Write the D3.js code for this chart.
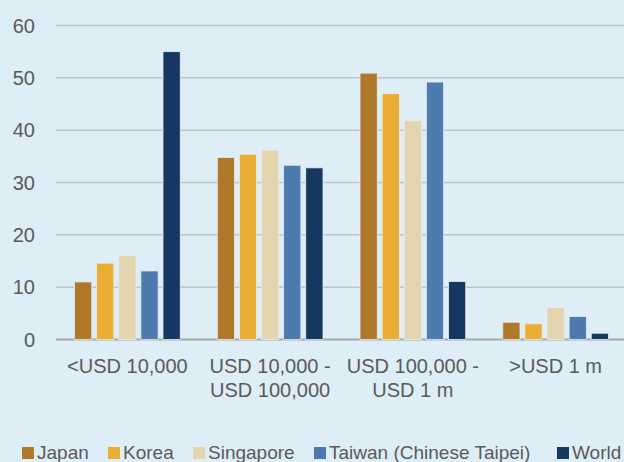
<!DOCTYPE html>
<html>
<head>
<meta charset="utf-8">
<script src="https://cdn.jsdelivr.net/npm/d3@7"></script>
<style>
  html, body { margin: 0; padding: 0; background: #deeef7; }
  svg { display: block; }
  text { font-family: "Liberation Sans", Arial, sans-serif; fill: #5a5a5a; }
</style>
</head>
<body>
<svg id="chart" width="624" height="462"></svg>
<script>
// chart data
var CATEGORIES = [["<USD 10,000"], ["USD 10,000 -", "USD 100,000"], ["USD 100,000 -", "USD 1 m"], [">USD 1 m"]];
var SERIES = ["Japan", "Korea", "Singapore", "Taiwan (Chinese Taipei)", "World"];
var JAPAN = [11.0, 34.8, 50.9, 3.3];
var KOREA = [14.6, 35.4, 47.0, 3.0];
var SINGAPORE = [16.0, 36.2, 41.8, 6.1];
var TAIWAN = [13.1, 33.3, 49.2, 4.4];
var WORLD = [55.0, 32.8, 11.1, 1.2];
var Y_TICKS = [0, 10, 20, 30, 40, 50, 60];

var COLORS = ["#b0782b", "#ebae34", "#e5d4b0", "#4e7bad", "#173763"];
var VALUES = [JAPAN, KOREA, SINGAPORE, TAIWAN, WORLD];

var MARGIN = {left: 56, top: 25.5, right: -3, bottom: 122.5};
var W = 624, H = 462;

var svg = d3.select("#chart");

var x0 = d3.scaleBand()
    .domain(d3.range(CATEGORIES.length))
    .range([MARGIN.left, W - MARGIN.right])
    .paddingInner(0)
    .paddingOuter(0);

var x1 = d3.scaleBand()
    .domain(d3.range(SERIES.length))
    .range([18.5, x0.bandwidth() - 18.5])
    .paddingInner(0.22);

var y = d3.scaleLinear()
    .domain([0, 60])
    .range([H - MARGIN.bottom, MARGIN.top]);

// gridlines
svg.append("g")
    .selectAll("line")
    .data(Y_TICKS)
    .join("line")
    .attr("x1", MARGIN.left)
    .attr("x2", W)
    .attr("y1", d => y(d))
    .attr("y2", d => y(d))
    .attr("stroke", d => d === 0 ? "#a8a8a8" : "#bfc3c6")
    .attr("stroke-width", d => d === 0 ? 2 : 1.5);

// y tick labels
svg.append("g")
    .selectAll("text")
    .data(Y_TICKS)
    .join("text")
    .attr("x", 35)
    .attr("y", d => y(d))
    .attr("dy", "0.36em")
    .attr("text-anchor", "end")
    .attr("font-size", 20)
    .text(d => d);

// bars
var groups = svg.append("g")
    .selectAll("g")
    .data(CATEGORIES)
    .join("g")
    .attr("transform", (d, i) => `translate(${x0(i)},0)`);

groups.selectAll("rect")
    .data((d, i) => VALUES.map((s, j) => ({series: j, value: s[i]})))
    .join("rect")
    .attr("x", d => x1(d.series))
    .attr("y", d => y(d.value))
    .attr("width", x1.bandwidth())
    .attr("height", d => y(0) - y(d.value))
    .attr("fill", d => COLORS[d.series])
    .attr("stroke", "#e6edf2")
    .attr("stroke-width", 0.8);

// x labels
svg.append("g")
    .selectAll("text")
    .data(CATEGORIES)
    .join("text")
    .attr("x", (d, i) => x0(i) + x0.bandwidth() / 2)
    .attr("y", 373)
    .attr("text-anchor", "middle")
    .attr("font-size", 20)
    .selectAll("tspan")
    .data(d => d)
    .join("tspan")
    .attr("x", function() { return this.parentNode.getAttribute("x"); })
    .attr("dy", (d, i) => i === 0 ? 0 : 24)
    .text(d => d);

// legend
var LEGEND_X = [22, 108, 193, 314, 557];
var legend = svg.append("g")
    .selectAll("g")
    .data(SERIES)
    .join("g")
    .attr("transform", (d, i) => `translate(${LEGEND_X[i]},447)`);

legend.append("rect")
    .attr("width", 12)
    .attr("height", 12)
    .attr("fill", (d, i) => COLORS[i]);

legend.append("text")
    .attr("x", 15)
    .attr("y", 12)
    .attr("font-size", 19)
    .text(d => d);
</script>
</body>
</html>
